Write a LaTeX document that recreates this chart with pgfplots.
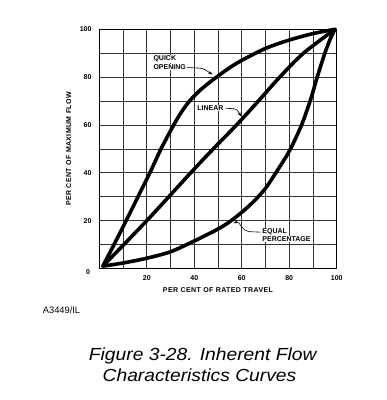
\documentclass[border=0pt]{standalone}
\usepackage{pgfplots}
\pgfplotsset{compat=1.18}
\usepackage{fontspec}
\setmainfont{Liberation Sans}
\newfontfamily\spacedbold[LetterSpace=6]{Liberation Sans}
\usetikzlibrary{arrows.meta}
\begin{document}
\begin{tikzpicture}
\path[use as bounding box] (0,0) rectangle (387pt,400pt);
\begin{axis}[
  at={(99.3pt,131.5pt)}, anchor=south west,
  scale only axis, width=237.4pt, height=239.2pt,
  xmin=0, xmax=100, ymin=0, ymax=100,
  xtick={20,40,...,100}, ytick={20,40,...,100},
  minor xtick={10,30,...,90}, minor ytick={10,30,...,90},
  grid=both,
  major grid style={black!80, line width=0.8pt},
  minor grid style={black!80, line width=0.8pt},
  major tick length=0pt, minor tick length=0pt,
  axis line style={black, line width=1pt},
  /pgf/number format/assume math mode=true,
  ticklabel style={font=\fontsize{7}{8}\selectfont\bfseries},
  xticklabel style={yshift=-3.2pt},
  yticklabel style={xshift=-4.3pt},
  clip=false,
]
\addplot[black, line width=3.6pt, line cap=round, line join=round, smooth] coordinates {
 (1.5,1) (6.2,10) (11.3,20) (16.3,30) (21.3,40) (26,50) (30.8,59) (34,64.5)
 (38,70) (43,75) (48.7,79.5) (55,84) (60,87) (70,92) (80,95.5) (90,98.2) (99.3,100)};
\addplot[black, line width=3.6pt, line cap=round, line join=round, smooth] coordinates {
 (1.5,1) (20,20) (38.5,40) (48,50) (57.8,60) (67,70) (76,80) (86,90) (99.3,100)};
\addplot[black, line width=3.6pt, line cap=round, line join=round, smooth] coordinates {
 (1.5,1) (10,2.3) (20,4.3) (30,7) (40,11.5) (50,16.5) (55,19.6) (60,23.5)
 (65,28) (70,33.5) (75,41) (80,49) (85,59.5) (88.8,70) (91.8,80)
 (95,90) (97.5,96.5) (99.3,100)};
% annotations
\tikzset{lab/.style={anchor=west, inner sep=0.6pt, fill=white, font=\fontsize{7}{8}\selectfont\bfseries}}
\node[lab] at (axis cs:22.5,87.5) {QUICK};
\node[lab] at (axis cs:22.5,84.2) {OPENING};
\node[lab] at (axis cs:41,67.1) {LINEAR};
\node[lab] at (axis cs:68.4,15.2) {EQUAL};
\node[lab] at (axis cs:68.4,12.2) {PERCENTAGE};
\draw[-{Stealth[length=4.5pt,width=3.2pt]}, line width=0.6pt]
  (axis cs:37,84) -- (axis cs:42,83.8) to[out=0,in=155] (axis cs:47.8,81.2);
\draw[-{Stealth[length=4.5pt,width=3.2pt]}, line width=0.6pt]
  (axis cs:53.3,67) -- (axis cs:56.5,66.8) to[out=0,in=125] (axis cs:59.8,63.6);
\draw[-{Stealth[length=4.5pt,width=3.2pt]}, line width=0.6pt]
  (axis cs:68,15.2) -- (axis cs:63,15.4) to[out=180,in=25] (axis cs:56.6,18.9);
\node[font=\fontsize{7}{8}\selectfont\bfseries, xshift=-11.3pt, yshift=-4pt] at (rel axis cs:0,0) {0};
\node[font=\fontsize{7}{8}\selectfont\spacedbold\bfseries, yshift=-22pt] at (rel axis cs:0.5,0) {PER CENT OF RATED TRAVEL};
\node[font=\fontsize{7}{8}\selectfont\spacedbold\bfseries, xshift=-30.5pt, rotate=90] at (rel axis cs:0,0.5) {PER CENT OF MAXIMUM FLOW};
\end{axis}
\node[anchor=base west, inner sep=0, font=\fontsize{9.3}{11}\selectfont] at (42.7pt,86.7pt) {A3449/IL};
\node[anchor=base, inner sep=0, xscale=1.1, font=\fontsize{17.5}{20}\selectfont\itshape] at (202.7pt,40pt) {Figure 3-28. Inherent Flow};
\node[anchor=base, inner sep=0, xscale=1.1, font=\fontsize{17.5}{20}\selectfont\itshape] at (199.5pt,18.3pt) {Characteristics Curves};
\end{tikzpicture}
\end{document}
